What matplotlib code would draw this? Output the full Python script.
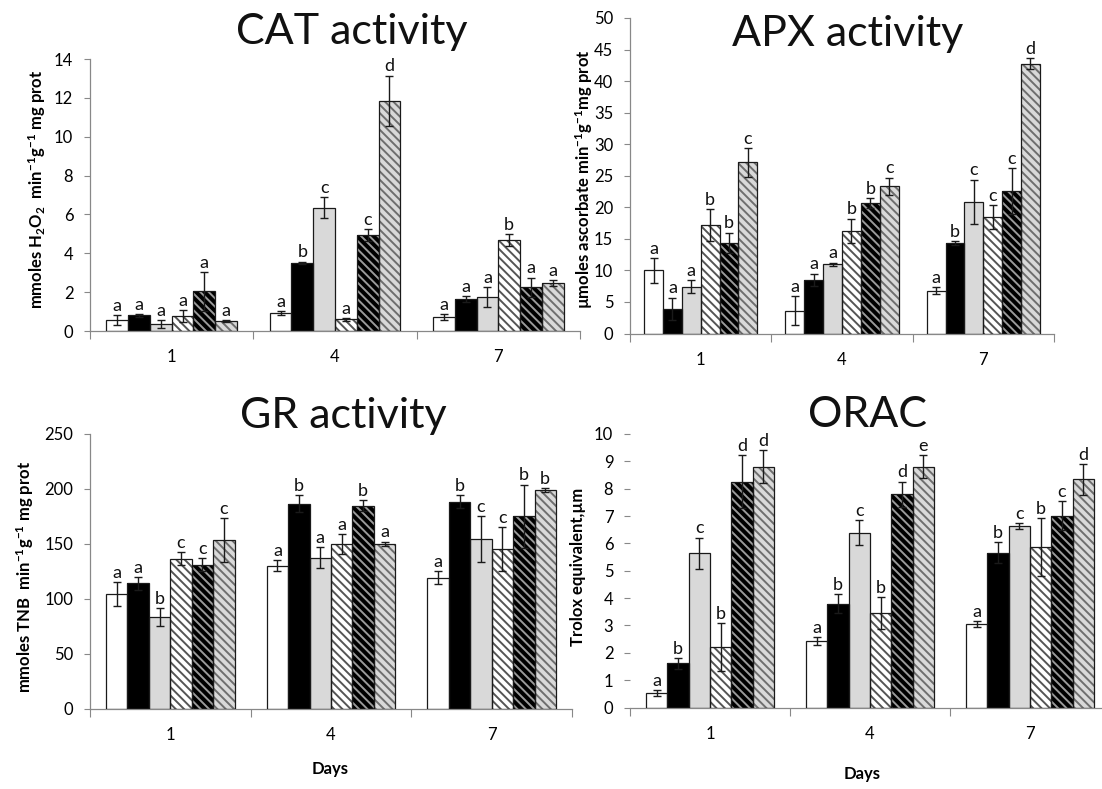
import matplotlib
matplotlib.use('Agg')
import matplotlib.pyplot as plt
import numpy as np

plt.rcParams['font.family'] = ['Lato', 'DejaVu Sans']
plt.rcParams['mathtext.fontset'] = 'custom'
plt.rcParams['mathtext.rm'] = 'Lato:bold'
plt.rcParams['mathtext.it'] = 'Lato:bold'
plt.rcParams['mathtext.bf'] = 'Lato:bold'
plt.rcParams['hatch.linewidth'] = 1.4

days = ['1', '4', '7']

# one row per day, six treatments per row
cat_mean = [[0.57, 0.80, 0.37, 0.76, 2.05, 0.52],
            [0.92, 3.52, 6.35, 0.60, 4.95, 11.85],
            [0.72, 1.65, 1.75, 4.70, 2.25, 2.45]]
cat_err = [[0.25, 0.08, 0.20, 0.30, 1.00, 0.05],
           [0.10, 0.05, 0.55, 0.08, 0.30, 1.30],
           [0.15, 0.15, 0.50, 0.30, 0.50, 0.15]]
cat_letters = [list('aaaaaa'), list('abcacd'), list('aaabaa')]

apx_mean = [[10.0, 3.9, 7.4, 17.2, 14.4, 27.1],
            [3.6, 8.5, 10.95, 16.3, 20.65, 23.3],
            [6.8, 14.4, 20.9, 18.5, 22.55, 42.75]]
apx_err = [[2.0, 1.8, 1.0, 2.5, 1.6, 2.3],
           [2.3, 1.0, 0.3, 1.9, 0.8, 1.4],
           [0.6, 0.3, 3.5, 1.9, 3.6, 0.9]]
apx_letters = [list('aaabbc'), list('aaabbc'), list('abcccd')]

gr_mean = [[104, 114, 83.5, 136.5, 131, 153.5],
           [130, 186.5, 137.5, 150, 184.5, 150],
           [119, 188.5, 154.5, 145, 175, 199]]
gr_err = [[11, 6, 8, 6, 6, 20],
          [5, 7.5, 9.5, 9, 5, 2],
          [6, 6, 21, 20, 29, 2]]
gr_letters = [list('aabccc'), list('abaaba'), list('abccbb')]

orac_mean = [[0.53, 1.62, 5.64, 2.22, 8.26, 8.81],
             [2.42, 3.80, 6.39, 3.46, 7.79, 8.81],
             [3.05, 5.66, 6.64, 5.87, 7.02, 8.34]]
orac_err = [[0.10, 0.20, 0.57, 0.88, 0.98, 0.60],
            [0.15, 0.35, 0.45, 0.58, 0.47, 0.43],
            [0.10, 0.38, 0.10, 1.05, 0.53, 0.57]]
orac_letters = [list('abcbdd'), list('abcbde'), list('abcbcd')]

# bar styles for the six treatments
fills = ['white', 'black', '#d9d9d9', 'white', 'black', '#d9d9d9']
hatches = [None, None, None, '\\\\\\\\', '\\\\\\\\', '\\\\\\\\']
hatch_cols = [None, None, None, '#555555', '#9a9a9a', '#6e6e6e']

W, H = 1102, 789
fig = plt.figure(figsize=(W / 100, H / 100), dpi=100)


def px_axes(left, right, bottom, top):
    return fig.add_axes([left / W, 1 - bottom / H, (right - left) / W, (bottom - top) / H])


def draw_panel(ax, means, errs, letters, ymax, ystep, show_left=True):
    w = 0.8 / 6
    grp = np.arange(len(days))
    for i in range(6):
        x = grp + (i - 2.5) * w
        vals = [means[g][i] for g in range(len(days))]
        ee = [errs[g][i] for g in range(len(days))]
        ax.bar(x, vals, w, color=fills[i], edgecolor='none', linewidth=0, zorder=2)
        if hatches[i]:
            ax.bar(x, vals, w, color='none', edgecolor=hatch_cols[i],
                   hatch=hatches[i], linewidth=0, zorder=3)
        ax.bar(x, vals, w, color='none', edgecolor='#1a1a1a', linewidth=0.9, zorder=4)
        ax.errorbar(x, vals, yerr=ee, fmt='none', ecolor='#1a1a1a',
                    elinewidth=1, capsize=3, capthick=1, zorder=5)
        for g in range(len(days)):
            ax.annotate(letters[g][i], (x[g], vals[g] + ee[g]), xytext=(0, 3),
                        textcoords='offset points', ha='center', va='baseline',
                        fontsize=13, color='#111111', zorder=6)
    ax.set_xlim(-0.5, len(days) - 0.5)
    ax.set_ylim(0, ymax)
    ax.set_yticks(np.arange(0, ymax + ystep / 2, ystep))
    ax.set_xticks(np.arange(-0.5, len(days)), [])
    ax.set_xticks(grp, days, minor=True)
    ax.tick_params(axis='x', which='major', direction='out', length=6, color='#888888')
    ax.tick_params(axis='x', which='minor', length=0, pad=13, labelsize=12)
    ax.tick_params(axis='y', direction='out', length=4, pad=8, color='#888888',
                   labelsize=12)
    for s in ['top', 'right']:
        ax.spines[s].set_visible(False)
    for s in ['left', 'bottom']:
        ax.spines[s].set_color('#888888')
        ax.spines[s].set_linewidth(0.9)
    if not show_left:
        ax.spines['left'].set_visible(False)


ax1 = px_axes(90, 580, 331, 59)
draw_panel(ax1, cat_mean, cat_err, cat_letters, 14, 2)
ax2 = px_axes(630, 1054, 333.5, 18)
draw_panel(ax2, apx_mean, apx_err, apx_letters, 50, 5)
ax3 = px_axes(90, 572, 708.5, 434)
draw_panel(ax3, gr_mean, gr_err, gr_letters, 250, 50)
ax4 = px_axes(630, 1110, 707.5, 434)
draw_panel(ax4, orac_mean, orac_err, orac_letters, 10, 1, show_left=False)

# titles
title_kw = dict(ha='center', va='baseline', fontsize=31, color='#111111')
fig.text(352 / W, 1 - 44 / H, 'CAT activity', **title_kw)
fig.text(848 / W, 1 - 46 / H, 'APX activity', **title_kw)
fig.text(343 / W, 1 - 428 / H, 'GR activity', **title_kw)
fig.text(867 / W, 1 - 427 / H, 'ORAC', **title_kw)

# axis labels
yl_kw = dict(rotation=90, ha='center', va='center', fontsize=12, fontweight='bold')
fig.text(37 / W, 1 - 189 / H, r'mmoles H$_2$O$_2$  min$^{-1}$g$^{-1}$ mg prot', **yl_kw)
fig.text(584 / W, 1 - 179 / H, r'µmoles ascorbate min$^{-1}$g$^{-1}$mg prot', **yl_kw)
fig.text(25 / W, 1 - 577 / H, r'mmoles TNB  min$^{-1}$g$^{-1}$ mg prot', **yl_kw)
fig.text(578 / W, 1 - 567 / H, 'Trolox equivalent,µm', **yl_kw)

fig.text(330 / W, 1 - 769 / H, 'Days', ha='center', va='center', fontsize=12,
         fontweight='bold')
fig.text(862 / W, 1 - 774 / H, 'Days', ha='center', va='center', fontsize=12,
         fontweight='bold')

fig.savefig('out.png', dpi=100)
